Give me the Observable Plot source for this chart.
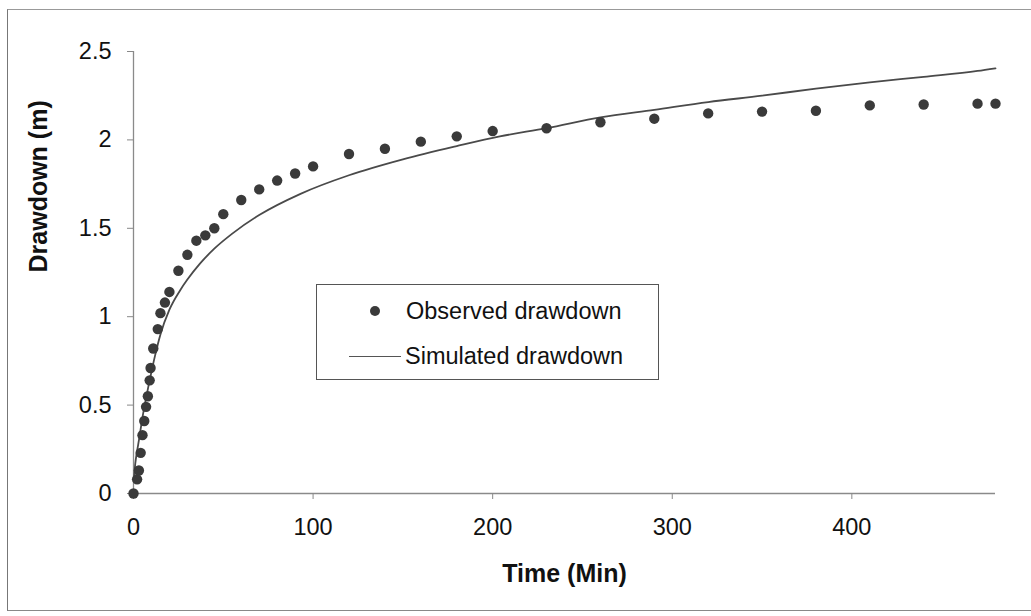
<!DOCTYPE html>
<html>
<head>
<meta charset="utf-8">
<script src="https://cdn.jsdelivr.net/npm/d3@7"></script>
<script src="https://cdn.jsdelivr.net/npm/@observablehq/plot@0.6"></script>
<style>
  html, body { margin: 0; padding: 0; background: #fff; }
  #wrap { position: relative; width: 1031px; height: 616px; overflow: hidden; font-family: "Liberation Sans", Arial, sans-serif; }
  #frame { position: absolute; left: 7px; top: 9px; width: 1040px; height: 600px; border-left: 1.5px solid #777; border-top: 1.5px solid #999; border-bottom: 1.5px solid #888; }
  #legend { position: absolute; left: 316px; top: 284px; width: 341px; height: 94px; border: 1.5px solid #555; background: #fff; font-size: 23.5px; color: #111; }
  .row { position: absolute; left: 0; display: flex; align-items: center; height: 30px; }
  .dot { width: 10px; height: 10px; border-radius: 50%; background: #3a3a3a; }
  .ln { width: 52px; height: 0; border-top: 1.8px solid #555; }
</style>
</head>
<body>
<div id="wrap">
  <div id="frame"></div>
  <div id="chart"></div>
  <div id="legend">
    <div class="row" style="top:11px;"><div style="width:53px"></div><div class="dot"></div><div style="width:26px"></div><span>Observed drawdown</span></div>
    <div class="row" style="top:56px;"><div style="width:32px"></div><div class="ln"></div><div style="width:4px"></div><span>Simulated drawdown</span></div>
  </div>
</div>
<script>
// Observed drawdown (time in minutes, drawdown in m)
const obsT = [0, 2, 3, 4, 5, 6, 7, 8, 9, 9.5, 11, 13.5, 15, 17.5, 20, 25, 30, 35, 40, 45, 50, 60, 70, 80, 90, 100, 120, 140, 160, 180, 200, 230, 260, 290, 320, 350, 380, 410, 440, 470, 480];
const obsS = [0, 0.08, 0.13, 0.23, 0.33, 0.41, 0.49, 0.55, 0.64, 0.71, 0.82, 0.93, 1.02, 1.08, 1.14, 1.26, 1.35, 1.43, 1.46, 1.50, 1.58, 1.66, 1.72, 1.77, 1.81, 1.85, 1.92, 1.95, 1.99, 2.02, 2.05, 2.066, 2.10, 2.12, 2.15, 2.16, 2.165, 2.195, 2.20, 2.205, 2.205];
// Simulated drawdown curve
const simT = [0.2, 1, 2, 3, 5, 7, 9, 12, 15, 20, 26, 30, 37, 45, 55, 70, 93, 120, 150, 180, 204, 230, 260, 290, 320, 350, 380, 410, 440, 470, 480];
const simS = [0.08, 0.17, 0.24, 0.30, 0.43, 0.54, 0.64, 0.78, 0.90, 1.04, 1.15, 1.21, 1.30, 1.385, 1.47, 1.575, 1.695, 1.80, 1.89, 1.965, 2.02, 2.066, 2.127, 2.17, 2.214, 2.25, 2.29, 2.325, 2.357, 2.39, 2.405];
const xTicks = [0, 100, 200, 300, 400];
const yTicks = [0, 0.5, 1, 1.5, 2, 2.5];
const xTitle = "Time (Min)";
const yTitle = "Drawdown (m)";

const observed = obsT.map((t, i) => ({t, s: obsS[i]}));
const simulated = simT.map((t, i) => ({t, s: simS[i]}));

const chart = Plot.plot({
  width: 1031,
  height: 616,
  marginLeft: 133,
  marginRight: 36,
  marginTop: 51,
  marginBottom: 123,
  style: {fontFamily: "'Liberation Sans', Arial, sans-serif", background: "transparent", color: "#111"},
  x: {domain: [0, 480]},
  y: {domain: [0, 2.5]},
  marks: [
    Plot.ruleX([0], {stroke: "#8a8a8a", strokeWidth: 1.3}),
    Plot.ruleY([0], {stroke: "#8a8a8a", strokeWidth: 1.3}),
    Plot.axisX({ticks: xTicks, tickFormat: d => String(d), tickSize: 6, tickPadding: 19, fontSize: 23.5, label: null, stroke: "#888"}),
    Plot.axisY({ticks: yTicks, tickFormat: d => String(d), tickSize: 6, tickPadding: 16, fontSize: 23.5, label: null, stroke: "#888"}),
    Plot.line(simulated, {x: "t", y: "s", stroke: "#4a4a4a", strokeWidth: 1.8, curve: "monotone-x"}),
    Plot.dot(observed, {x: "t", y: "s", r: 5.2, fill: "#3a3a3a", stroke: "none"}),
    Plot.text([xTitle], {frameAnchor: "bottom", dy: 88, fontSize: 25, fontWeight: "bold", fill: "#111"}),
    Plot.text([yTitle], {frameAnchor: "left", dx: -95, rotate: -90, fontSize: 25, fontWeight: "bold", fill: "#111"})
  ]
});
document.getElementById("chart").appendChild(chart);
</script>
</body>
</html>
